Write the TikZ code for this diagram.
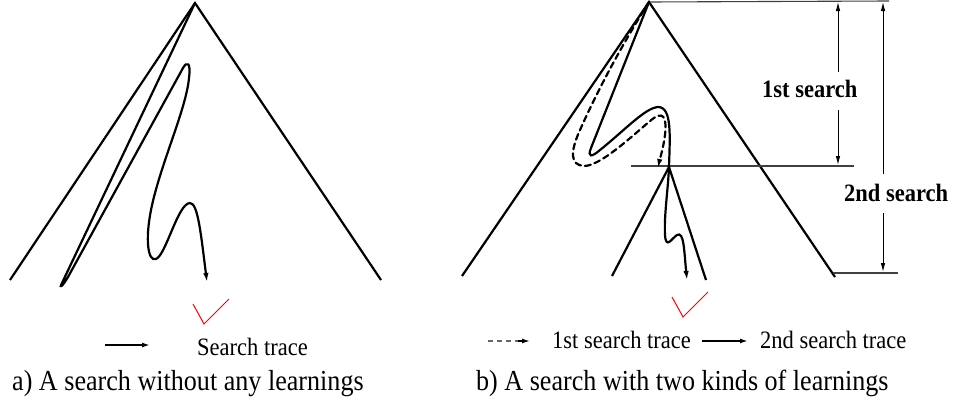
\documentclass[tikz,border=0pt]{standalone}
\usepackage{fontspec}
\setmainfont{Liberation Serif}
\usetikzlibrary{arrows.meta}
\begin{document}
\begin{tikzpicture}[x=1pt,y=-1pt,
  tri/.style={line width=2.2pt,line join=miter},
  trace/.style={line width=2.2pt,line cap=round},
  tip/.style={-{Latex[length=9pt,width=5.5pt]}},
  dim/.style={line width=0.9pt,-{Latex[length=9pt,width=4.5pt]}},
  refl/.style={line width=1.1pt,black!75},
  chk/.style={red,line width=1pt},
  legtxt/.style={font=\fontsize{25}{29}\selectfont,inner sep=0pt,xscale=0.9,anchor=base west},
  captxt/.style={font=\fontsize{29}{33}\selectfont,inner sep=0pt,xscale=0.9,anchor=base west},
  boldtxt/.style={font=\fontsize{25}{29}\selectfont\bfseries,inner sep=0pt,xscale=0.9,anchor=base west}]
\useasboundingbox (0,0) rectangle (953,402);
% ---------- a) ----------
\coordinate (aA) at (195,3);
\coordinate (aL) at (10,280);
\coordinate (aR) at (381,280);
\draw[tri] (aL) -- (aA) -- (aR);
\draw[trace,tip] (aA) -- (62,283) .. controls (59,289) and (62,287) .. (68,277)
  -- (183,68) .. controls (187,61) and (191,62) .. (189,78)
  .. controls (186,110) and (160,165) .. (151,210)
  .. controls (145,240) and (148,262) .. (156,259)
  .. controls (166,255) and (178,203) .. (190,203)
  .. controls (198,203) and (201,235) .. (207,282);
\draw[chk] (193,304) -- (204,324) -- (229,299);
\draw[line width=1.8pt,-{Latex[length=8pt,width=5pt]}] (105,345) coordinate (la1) -- (150,345) coordinate (la2);
\node[legtxt] (lat) at (197,355) {Search trace};
\node[captxt] (capa) at (12,390) {a) A search without any learnings};
% ---------- b) ----------
\coordinate (bA) at (649,2);
\coordinate (bL) at (462,276);
\coordinate (bR) at (835,277);
\coordinate (sA) at (669,167);
\coordinate (sL) at (612,276);
\coordinate (sR) at (706,280);
\draw[tri] (bL) -- (bA) -- (bR);
\draw[tri] (sL) -- (sA) -- (sR);
% reference lines
\draw[refl] (bA) -- (889,1);
\draw[refl] (631,166) -- (854,166);
\draw[refl] (833,273) -- (898,273);
% dimension arrows
\draw[dim] (838,72) -- (838,2);
\draw[dim] (838,110) -- (838,165);
\node[boldtxt] (s1) at (762,97) {1st search};
\draw[dim] (883,174) -- (883,2);
\draw[dim] (883,213) -- (883,272);
\node[boldtxt] (s2) at (844,201) {2nd search};
% dashed first trace
\draw[trace,dashed,dash pattern=on 6pt off 4pt,tip] (bA) .. controls (625,40) and (600,85) .. (580,130)
  .. controls (570,152) and (570,165) .. (584,166)
  .. controls (600,166) and (630,138) .. (650,121)
  .. controls (663,110) and (667,116) .. (665,135)
  .. controls (663,150) and (660,158) .. (658,168);
% solid second trace
\draw[trace,tip] (bA) -- (591,148) .. controls (587,158) and (592,157) .. (600,150)
  .. controls (625,130) and (645,108) .. (658,107)
  .. controls (672,107) and (670,135) .. (669,167)
  .. controls (668,190) and (664,215) .. (665,235)
  .. controls (666,250) and (672,238) .. (677,235)
  .. controls (684,231) and (684,250) .. (687,280);
\draw[chk] (672,297) -- (683,317) -- (708,292);
% legend b
\draw[line width=1.4pt,black!60,dash pattern=on 5pt off 4pt] (488,341) coordinate (lb1) -- (518,341) coordinate (lb2);
\draw[line width=1.4pt,-{Latex[length=8pt,width=5pt]}] (lb2) -- (530,341) coordinate (lb3);
\node[legtxt] (lbt1) at (552,348) {1st search trace};
\draw[line width=1.8pt,-{Latex[length=8pt,width=5pt]}] (702,341) coordinate (lb4) -- (748,341) coordinate (lb5);
\node[legtxt] (lbt2) at (760,348) {2nd search trace};
\node[captxt] (capb) at (476,390) {b) A search with two kinds of learnings};
\end{tikzpicture}
\end{document}
